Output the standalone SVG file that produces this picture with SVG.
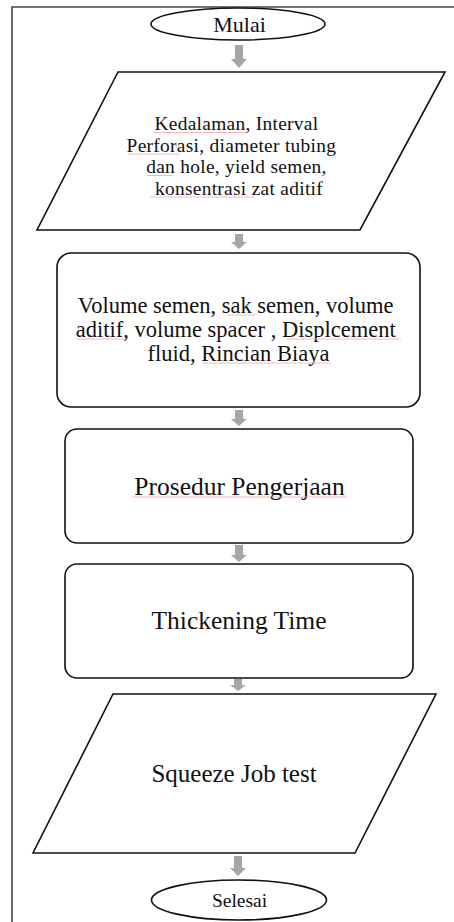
<svg xmlns="http://www.w3.org/2000/svg" width="454" height="922" viewBox="0 0 454 922">
<defs>
<style>
.shape{fill:#fff;stroke:#111;stroke-width:1.6}
.frame{fill:none;stroke:#444;stroke-width:1.6}
.arrow{fill:#a6a6a6;stroke:none}
.t{font-family:"Liberation Serif","Times New Roman",serif;fill:#111;text-anchor:middle}
.sp{fill:none;stroke:#f2a6a6;stroke-width:0.8}
</style>
</defs>
<rect width="454" height="922" fill="#fff"/>
<path class="frame" d="M454,7 H12 V922"/>
<g id="connectors">
<path class="arrow" d="M235,45 h8 v14 h4 l-8,9 l-8,-9 h4 z"/>
<path class="arrow" d="M235,234 h8 v8 h4 l-8,7 l-8,-7 h4 z"/>
<path class="arrow" d="M235,410 h8 v9 h4 l-8,7 l-8,-7 h4 z"/>
<path class="arrow" d="M235,545 h8 v10 h4 l-8,7 l-8,-7 h4 z"/>
<path class="arrow" d="M234,679 h8 v6 h4 l-8,6 l-8,-6 h4 z"/>
<path class="arrow" d="M234,856 h8 v12 h4 l-8,8 l-8,-8 h4 z"/>
</g>
<g id="mulai">
<ellipse class="shape" cx="238" cy="24" rx="87" ry="16"/>
<text class="t" x="239.5" y="32" font-size="22">Mulai</text>
</g>
<g id="input-data">
<polygon class="shape" points="118,72 445,72 360,230 37,230"/>
<text class="t" font-size="19.4" letter-spacing="0.3">
<tspan x="239" y="130">Kedalaman, Interval</tspan>
<tspan x="234" y="151.6">Perforasi, diameter tubing</tspan>
<tspan x="239" y="173.2">dan hole, yield semen,</tspan>
<tspan x="239" y="194.8">konsentrasi zat aditif</tspan>
</text>
<path class="sp" d="M153,132.5 H246 M128,154 H180 M147,175.5 H173 M150,197 H255"/>
</g>
<g id="perhitungan">
<rect class="shape" x="57" y="253" width="363" height="154" rx="14"/>
<text class="t" font-size="22.5">
<tspan x="238.5" y="313">Volume semen, sak semen, volume</tspan>
<tspan x="238.5" y="337">aditif, volume spacer , Displcement</tspan>
<tspan x="238.5" y="361">fluid, Rincian Biaya</tspan>
</text>
<path class="sp" d="M227,315 H257 M77,339 H123 M287,339 H401 M202,363 H331"/>
</g>
<g id="prosedur">
<rect class="shape" x="65" y="429" width="348" height="114" rx="12"/>
<text class="t" x="239.5" y="495" font-size="25.5">Prosedur Pengerjaan</text>
<path class="sp" d="M132,497 H347"/>
</g>
<g id="thickening">
<rect class="shape" x="65" y="564" width="348" height="114" rx="12"/>
<text class="t" x="239" y="629" font-size="25.5">Thickening Time</text>
</g>
<g id="squeeze">
<polygon class="shape" points="113,694 436,694 355,853 33,853"/>
<text class="t" x="234" y="782" font-size="25">Squeeze Job test</text>
</g>
<g id="selesai">
<ellipse class="shape" cx="239" cy="900" rx="87.5" ry="20"/>
<text class="t" x="239.5" y="907" font-size="19.5">Selesai</text>
</g>
</svg>
